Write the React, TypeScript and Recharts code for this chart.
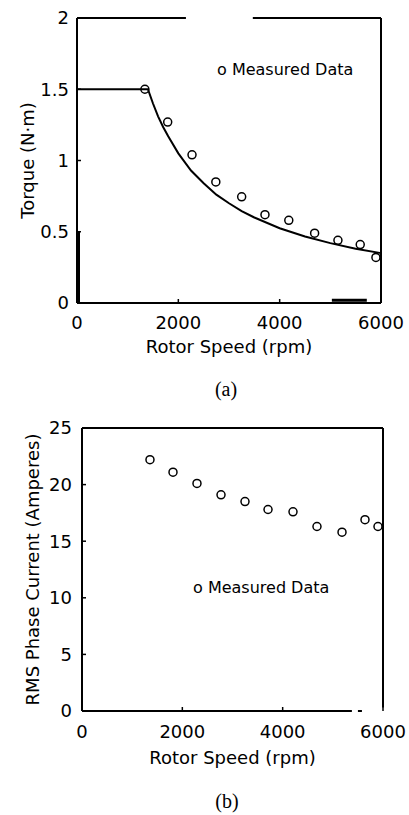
import React from "react";
import {
  ComposedChart,
  Line,
  Scatter,
  XAxis,
  YAxis,
  ReferenceLine,
  Label,
} from "recharts";

// (a) torque vs speed: computed curve + measured points
const curveSpeed = [0, 1400, 1500, 1600, 1700, 1800, 2000, 2250, 2500, 2750, 3000, 3250, 3500, 4000, 4500, 5000, 5500, 6000];
const curveTorque = [1.5, 1.5, 1.4, 1.31, 1.235, 1.17, 1.05, 0.93, 0.84, 0.76, 0.7, 0.645, 0.6, 0.525, 0.467, 0.42, 0.38, 0.35];
const measSpeedA = [1340, 1790, 2270, 2740, 3250, 3710, 4180, 4690, 5150, 5590, 5900];
const measTorque = [1.5, 1.27, 1.04, 0.85, 0.745, 0.62, 0.58, 0.49, 0.44, 0.41, 0.32];

// (b) RMS phase current vs speed, measured
const measSpeedB = [1355, 1814, 2292, 2771, 3249, 3708, 4206, 4684, 5183, 5641, 5900];
const measCurrent = [22.2, 21.1, 20.1, 19.1, 18.5, 17.8, 17.6, 16.3, 15.8, 16.9, 16.3];

const speedTicks = [0, 2000, 4000, 6000];
const torqueTicks = [0, 0.5, 1, 1.5, 2];
const currentTicks = [0, 5, 10, 15, 20, 25];

const FONT = "DejaVu Sans";
const tickStyle = { fontSize: 18, fill: "#000", fontFamily: FONT };
const labelStyle = { fontSize: 18, fill: "#000", fontFamily: FONT };

const Ring = (p: any) => (
  <circle cx={p.cx} cy={p.cy} r={4} fill="none" stroke="#000" strokeWidth={1.5} />
);

const zip = (xs: number[], ys: number[]) => xs.map((x, i) => ({ x, y: ys[i] }));

function TorqueChart() {
  return (
    <ComposedChart width={409} height={400} margin={{ top: 17, right: 27, bottom: 40, left: 0 }}>
      <XAxis
        dataKey="x"
        type="number"
        domain={[0, 6000]}
        ticks={speedTicks}
        height={57}
        axisLine={{ stroke: "#000", strokeWidth: 2 }}
        tickLine={{ stroke: "#000", strokeWidth: 1.5 }}
        tickSize={-4}
        tickMargin={17}
        tick={tickStyle}
        interval={0}
      >
        <Label value="Rotor Speed (rpm)" position="insideBottom" offset={7} style={labelStyle} />
      </XAxis>
      <XAxis
        xAxisId="t"
        orientation="top"
        dataKey="x"
        type="number"
        domain={[0, 6000]}
        ticks={speedTicks}
        height={1}
        axisLine={false}
        tickLine={{ stroke: "#000", strokeWidth: 1.5 }}
        tickSize={-4}
        tick={false}
      />
      <YAxis
        dataKey="y"
        type="number"
        domain={[0, 2]}
        ticks={torqueTicks}
        width={77}
        axisLine={{ stroke: "#000", strokeWidth: 2 }}
        tickLine={{ stroke: "#000", strokeWidth: 1.5 }}
        tickSize={-4}
        tickMargin={12}
        tick={tickStyle}
        interval={0}
      >
        <Label
          value="Torque (N·m)"
          angle={-90}
          position="insideLeft"
          offset={28}
          style={{ ...labelStyle, textAnchor: "middle" }}
        />
      </YAxis>
      <YAxis
        yAxisId="r"
        orientation="right"
        dataKey="y"
        type="number"
        domain={[0, 2]}
        ticks={torqueTicks}
        width={1}
        axisLine={{ stroke: "#000", strokeWidth: 2 }}
        tickLine={{ stroke: "#000", strokeWidth: 1.5 }}
        tickSize={-4}
        tick={false}
      />
      {/* broken top frame and the thick smudges of the scan */}
      <ReferenceLine segment={[{ x: 0, y: 2 }, { x: 2150, y: 2 }]} stroke="#000" strokeWidth={2} />
      <ReferenceLine segment={[{ x: 3470, y: 2 }, { x: 6000, y: 2 }]} stroke="#000" strokeWidth={2} />
      <ReferenceLine segment={[{ x: 30, y: 0 }, { x: 30, y: 0.5 }]} stroke="#000" strokeWidth={3} />
      <ReferenceLine segment={[{ x: 5030, y: 0.02 }, { x: 5720, y: 0.02 }]} stroke="#000" strokeWidth={3} />
      <Line
        data={zip(curveSpeed, curveTorque)}
        dataKey="y"
        type="linear"
        stroke="#000"
        strokeWidth={2}
        dot={false}
        isAnimationActive={false}
      />
      <Scatter data={zip(measSpeedA, measTorque)} shape={Ring} isAnimationActive={false} />
    </ComposedChart>
  );
}

function CurrentChart() {
  return (
    <ComposedChart width={409} height={370} margin={{ top: 17, right: 25, bottom: 9, left: 0 }}>
      <XAxis
        dataKey="x"
        type="number"
        domain={[0, 6000]}
        ticks={speedTicks}
        height={60}
        axisLine={false}
        tickLine={{ stroke: "#000", strokeWidth: 1.5 }}
        tickSize={-4}
        tickMargin={18}
        tick={tickStyle}
        interval={0}
      >
        <Label value="Rotor Speed (rpm)" position="insideBottom" offset={7} style={labelStyle} />
      </XAxis>
      <XAxis
        xAxisId="t"
        orientation="top"
        dataKey="x"
        type="number"
        domain={[0, 6000]}
        ticks={speedTicks}
        height={1}
        axisLine={{ stroke: "#000", strokeWidth: 2 }}
        tickLine={{ stroke: "#000", strokeWidth: 1.5 }}
        tickSize={-4}
        tick={false}
      />
      <YAxis
        dataKey="y"
        type="number"
        domain={[0, 25]}
        ticks={currentTicks}
        width={82}
        axisLine={{ stroke: "#000", strokeWidth: 2 }}
        tickLine={{ stroke: "#000", strokeWidth: 1.5 }}
        tickSize={-4}
        tickMargin={14}
        tick={tickStyle}
        interval={0}
      >
        <Label
          value="RMS Phase Current (Amperes)"
          angle={-90}
          position="insideLeft"
          offset={33}
          style={{ ...labelStyle, textAnchor: "middle" }}
        />
      </YAxis>
      <YAxis
        yAxisId="r"
        orientation="right"
        dataKey="y"
        type="number"
        domain={[0, 25]}
        ticks={currentTicks}
        width={1}
        axisLine={false}
        tickLine={{ stroke: "#000", strokeWidth: 1.5 }}
        tickSize={-4}
        tick={false}
      />
      {/* bottom and right frame, broken near the corner as in the scan */}
      <ReferenceLine segment={[{ x: 0, y: 0 }, { x: 5380, y: 0 }]} stroke="#000" strokeWidth={2} />
      <ReferenceLine segment={[{ x: 5500, y: 0 }, { x: 5580, y: 0 }]} stroke="#000" strokeWidth={2} />
      <ReferenceLine segment={[{ x: 6000, y: 0.3 }, { x: 6000, y: 25 }]} stroke="#000" strokeWidth={2} />
      <Scatter data={zip(measSpeedB, measCurrent)} shape={Ring} isAnimationActive={false} />
    </ComposedChart>
  );
}

const legendStyle: React.CSSProperties = {
  position: "absolute",
  fontFamily: FONT,
  fontSize: 16,
  lineHeight: "16px",
  whiteSpace: "nowrap",
  color: "#000",
};

const captionStyle: React.CSSProperties = {
  position: "absolute",
  fontFamily: "Liberation Serif",
  fontSize: 20,
  lineHeight: "20px",
  width: 100,
  textAlign: "center",
  color: "#000",
};

export default function App() {
  return (
    <div style={{ position: "fixed", top: 0, left: 0, width: 409, height: 815, background: "#fff" }}>
      <div style={{ position: "absolute", top: 0, left: 0 }}>
        <TorqueChart />
      </div>
      <div style={{ ...legendStyle, left: 217, top: 62 }}>o Measured Data</div>
      <div style={{ ...captionStyle, left: 176, top: 379 }}>(a)</div>

      <div style={{ position: "absolute", top: 410, left: 0 }}>
        <CurrentChart />
      </div>
      <div style={{ ...legendStyle, left: 193, top: 580 }}>o Measured Data</div>
      <div style={{ ...captionStyle, left: 177, top: 791 }}>(b)</div>
    </div>
  );
}
